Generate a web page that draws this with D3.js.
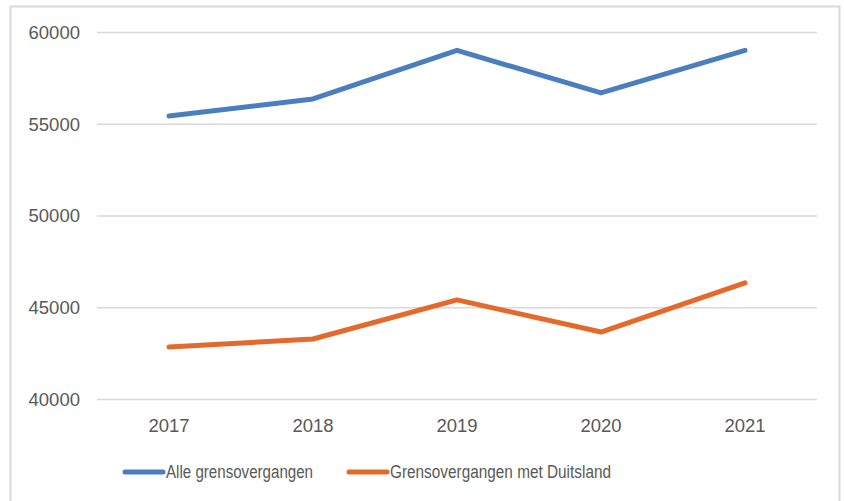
<!DOCTYPE html>
<html>
<head>
<meta charset="utf-8">
<script src="https://cdn.jsdelivr.net/npm/d3@7"></script>
<style>
html,body{margin:0;padding:0;background:#fff;}
svg{display:block;}
text{font-family:"Liberation Sans",Arial,sans-serif;fill:#595959;}
</style>
</head>
<body>
<svg id="chart" width="844" height="501"></svg>
<script>
const years = ["2017","2018","2019","2020","2021"];
const alleGrensovergangen = [55420, 56350, 59000, 56680, 59000];
const grensovergangenDuitsland = [42830, 43270, 45400, 43650, 46330];
const yTicks = [40000, 45000, 50000, 55000, 60000];
const seriesNames = ["Alle grensovergangen", "Grensovergangen met Duitsland"];
const seriesColors = ["#4a7ebf", "#e4692a"];

const series = [
  {name: seriesNames[0], values: alleGrensovergangen, color: seriesColors[0]},
  {name: seriesNames[1], values: grensovergangenDuitsland, color: seriesColors[1]}
];

const svg = d3.select("#chart");
const plot = {left: 97, right: 817, top: 32, bottom: 399};

// frame
svg.append("rect").attr("x", 10.5).attr("y", 6.5).attr("width", 829).attr("height", 510)
  .attr("fill", "#fff").attr("stroke", "#d9d9d9").attr("stroke-width", 2);

const x = d3.scaleBand().domain(years).range([plot.left, plot.right]);
const y = d3.scaleLinear().domain([40000, 60000]).range([plot.bottom, plot.top]);

// gridlines + y labels
const yAxis = d3.axisLeft(y).tickValues(yTicks).tickSize(-(plot.right - plot.left)).tickPadding(17).tickFormat(d3.format("d"));
const gy = svg.append("g").attr("transform", `translate(${plot.left},0)`).call(yAxis);
gy.select(".domain").remove();
gy.selectAll(".tick line").attr("stroke", "#d9d9d9").attr("stroke-width", 1.5);
gy.selectAll(".tick text").attr("font-size", 18.5).attr("fill", "#595959").attr("dy", "0.35em")
  .style("font-family", "Liberation Sans, Arial, sans-serif");

// x axis
const xAxis = d3.axisBottom(x).tickSize(0).tickPadding(20);
const gx = svg.append("g").attr("transform", `translate(0,${plot.bottom})`).call(xAxis);
gx.select(".domain").remove();
gx.selectAll(".tick text").attr("font-size", 18.5).attr("fill", "#595959")
  .style("font-family", "Liberation Sans, Arial, sans-serif");

// lines
const line = d3.line().x((d, i) => x(years[i]) + x.bandwidth() / 2).y(d => y(d));
svg.selectAll(".series").data(series).enter().append("path")
  .attr("class", "series")
  .attr("d", d => line(d.values))
  .attr("fill", "none")
  .attr("stroke", d => d.color)
  .attr("stroke-width", 5)
  .attr("stroke-linejoin", "round")
  .attr("stroke-linecap", "round");

// legend
const legendPos = [125, 349];
const legendTextLen = [147, 221];
const legendY = 472;
const lg = svg.selectAll(".legend").data(series).enter().append("g")
  .attr("class", "legend")
  .attr("transform", (d, i) => `translate(${legendPos[i]},${legendY})`);
lg.append("line").attr("x1", 0).attr("x2", 38).attr("y1", 0).attr("y2", 0)
  .attr("stroke", d => d.color).attr("stroke-width", 5).attr("stroke-linecap", "round");
lg.append("text").attr("x", 41).attr("y", 0).attr("dy", "0.35em")
  .attr("font-size", 18)
  .attr("textLength", (d, i) => legendTextLen[i])
  .attr("lengthAdjust", "spacingAndGlyphs")
  .text(d => d.name);
</script>
</body>
</html>
